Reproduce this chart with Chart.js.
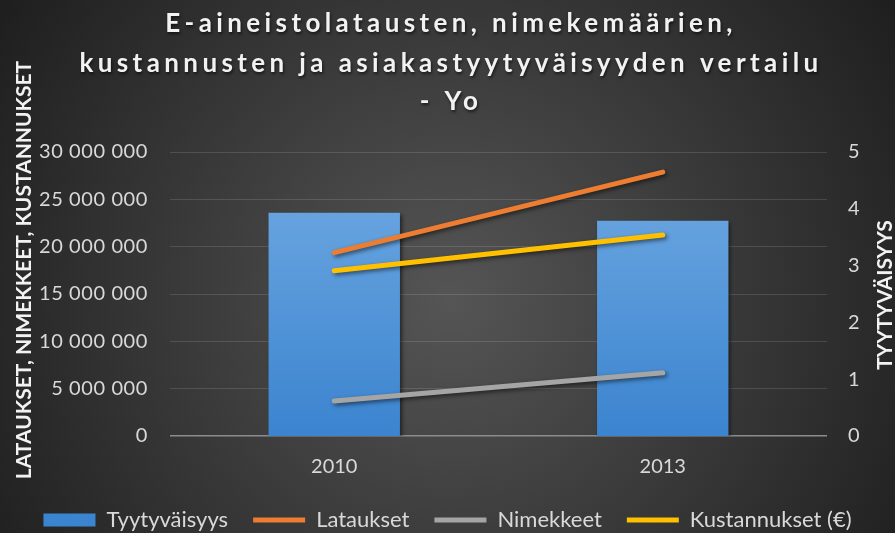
<!DOCTYPE html>
<html>
<head>
<meta charset="utf-8">
<script src="https://cdn.jsdelivr.net/npm/chart.js@4"></script>
<style>
  html, body { margin: 0; padding: 0; background: #2a2a2a; }
  canvas { display: block; }
</style>
</head>
<body>
<canvas id="myChart" width="895" height="533"></canvas>
<script>
const years = ['2010', '2013'];
const tyytyvaisyys = [3.93, 3.79];
const lataukset = [19370000, 27870000];
const nimekkeet = [3700000, 6670000];
const kustannukset = [17460000, 21240000];

const titleLines = ['E-aineistolatausten, nimekemäärien,', 'kustannusten ja asiakastyytyväisyyden vertailu', '- Yo'];
const leftTitle = 'LATAUKSET, NIMEKKEET, KUSTANNUKSET';
const rightTitle = 'TYYTYVÄISYYS';

const fontFamily = 'Lato, "Open Sans", sans-serif';
const tickColor = '#d9d9d9';

let formatMillions = function(v) {
	return String(v).replace(/\B(?=(\d{3})+(?!\d))/g, ' ');
};

let barGradient = function(context) {
	const chart = context.chart;
	const area = chart.chartArea;
	if (!area) {
		return '#5B9BD5';
	}
	const g = chart.ctx.createLinearGradient(0, area.top, 0, area.bottom);
	g.addColorStop(0, '#72abe3');
	g.addColorStop(1, '#3b84cf');
	return g;
};

// y tick labels are a bit spaced out in the original
let spaceLabels = function(scale, spacing) {
	if (scale._spaced) return;
	const orig = scale.drawLabels;
	scale.drawLabels = function(area) {
		const ctx = this.ctx;
		ctx.save();
		ctx.letterSpacing = spacing;
		orig.call(this, area);
		ctx.restore();
	};
	scale._spaced = true;
};

// background, titles and the rotated axis titles
const decorPlugin = {
	id: 'decor',
	afterLayout(chart) {
		spaceLabels(chart.scales.y, '0.6px');
	},
	beforeDraw(chart) {
		const ctx = chart.ctx;
		ctx.save();
		const g = ctx.createRadialGradient(450, 300, 0, 450, 300, 560);
		g.addColorStop(0, '#555555');
		g.addColorStop(1, '#1c1c1c');
		ctx.fillStyle = g;
		ctx.fillRect(0, 0, chart.width, chart.height);
		ctx.restore();
	},
	beforeDatasetsDraw(chart) {
		const ctx = chart.ctx;
		ctx.save();
		ctx.shadowColor = 'rgba(0,0,0,0.55)';
		ctx.shadowBlur = 4;
		ctx.shadowOffsetX = 2;
		ctx.shadowOffsetY = 2;
	},
	afterDatasetsDraw(chart) {
		chart.ctx.restore();
	},
	afterDraw(chart) {
		const ctx = chart.ctx;
		ctx.save();
		ctx.shadowColor = 'rgba(0,0,0,0.6)';
		ctx.shadowBlur = 3;
		ctx.shadowOffsetX = 1;
		ctx.shadowOffsetY = 2;
		ctx.fillStyle = '#f2f2f2';
		ctx.textAlign = 'center';
		ctx.textBaseline = 'alphabetic';
		ctx.font = 'bold 26px ' + fontFamily;
		ctx.letterSpacing = '4.4px';
		const baselines = [32, 72, 110];
		titleLines.forEach((line, i) => ctx.fillText(line, 451, baselines[i]));
		ctx.letterSpacing = '0px';
		ctx.shadowColor = 'transparent';

		ctx.font = 'bold 21px ' + fontFamily;
		ctx.textBaseline = 'middle';
		ctx.translate(24, 270);
		ctx.rotate(-Math.PI / 2);
		ctx.fillText(leftTitle, 0, 0);
		ctx.setTransform(1, 0, 0, 1, 0, 0);
		ctx.translate(885, 295);
		ctx.rotate(-Math.PI / 2);
		ctx.fillText(rightTitle, 0, 0);
		ctx.restore();
	}
};

function setupChart() {
	Chart.defaults.font.family = fontFamily;
	Chart.defaults.font.size = 20;
	Chart.defaults.color = tickColor;

	let ctx = document.getElementById('myChart').getContext('2d');

	chart = new Chart(ctx, {
		type: 'bar',
		data: {
			labels: years,
			datasets: [{
				label: 'Tyytyväisyys',
				data: tyytyvaisyys,
				yAxisID: 'y1',
				backgroundColor: barGradient,
				borderWidth: 0,
				categoryPercentage: 1,
				barPercentage: 0.4,
				pointStyle: 'rect',
				order: 2,
			}, {
				type: 'line',
				label: 'Lataukset',
				data: lataukset,
				yAxisID: 'y',
				borderColor: '#ED7D31',
				backgroundColor: '#ED7D31',
				borderWidth: 5,
				borderCapStyle: 'round',
				pointRadius: 0,
				pointStyle: 'line',
				order: 1,
			}, {
				type: 'line',
				label: 'Nimekkeet',
				data: nimekkeet,
				yAxisID: 'y',
				borderColor: '#A5A5A5',
				backgroundColor: '#A5A5A5',
				borderWidth: 5,
				borderCapStyle: 'round',
				pointRadius: 0,
				pointStyle: 'line',
				order: 1,
			}, {
				type: 'line',
				label: 'Kustannukset (€)',
				data: kustannukset,
				yAxisID: 'y',
				borderColor: '#FFC000',
				backgroundColor: '#FFC000',
				borderWidth: 5,
				borderCapStyle: 'round',
				pointRadius: 0,
				pointStyle: 'line',
				order: 1,
			}]
		},
		options: {
			responsive: false,
			animation: false,
			layout: {
				padding: { top: 152, bottom: -8, left: 0, right: 0 },
			},
			plugins: {
				title: { display: false },
				tooltip: { enabled: false },
				legend: {
					position: 'bottom',
					labels: {
						usePointStyle: true,
						pointStyleWidth: 52,
						boxHeight: 13,
						padding: 25,
						color: tickColor,
						font: { size: 22 },
						sort: (a, b) => a.datasetIndex - b.datasetIndex,
					},
				},
			},
			scales: {
				x: {
					grid: { display: false },
					border: { display: false },
					ticks: { padding: 11, color: tickColor },
					afterFit: (scale) => { scale.height = 48; },
				},
				y: {
					position: 'left',
					min: 0,
					max: 30000000,
					ticks: {
						stepSize: 5000000,
						padding: 22,
						color: tickColor,
						callback: (v) => formatMillions(v),
					},
					grid: {
						drawTicks: false,
						color: (c) => (c.tick && c.tick.value === 0 ? '#8c8c8c' : 'rgba(255,255,255,0.13)'),
						lineWidth: (c) => (c.tick && c.tick.value === 0 ? 1.5 : 1),
					},
					border: { display: false },
					afterFit: (scale) => { scale.width = 170; },
				},
				y1: {
					position: 'right',
					min: 0,
					max: 5,
					ticks: { stepSize: 1, padding: 21, color: tickColor },
					grid: { display: false, drawTicks: false },
					border: { display: false },
					afterFit: (scale) => { scale.width = 68; },
				},
			},
		},
		plugins: [decorPlugin],
	});
}

let chart;
setupChart();
</script>
</body>
</html>
